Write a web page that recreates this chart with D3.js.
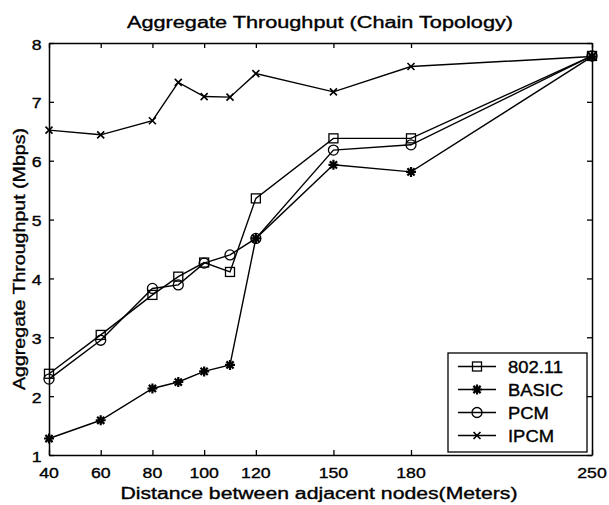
<!DOCTYPE html>
<html>
<head>
<meta charset="utf-8">
<script src="https://cdn.jsdelivr.net/npm/d3@7"></script>
<style>
  body { margin: 0; background: #fff; }
  text { font-family: "Liberation Sans", Arial, sans-serif; fill: #000; stroke: #000; stroke-width: 0.35px; }
</style>
</head>
<body>
<div id="chart"></div>
<script>
// distance between adjacent nodes (m)
const distances = [40, 60, 80, 90, 100, 110, 120, 150, 180, 250];

// aggregate throughput (Mbps)
const dot11 = [2.38, 3.04, 3.72, 4.03, 4.27, 4.11, 5.36, 6.38, 6.38, 7.78];
const basic = [1.28, 1.59, 2.13, 2.24, 2.42, 2.53, 4.68, 5.93, 5.81, 7.77];
const pcm   = [2.29, 2.95, 3.83, 3.89, 4.26, 4.40, 4.68, 6.18, 6.27, 7.78];
const ipcm  = [6.52, 6.44, 6.68, 7.33, 7.09, 7.08, 7.48, 7.17, 7.60, 7.77];

const xTicks = [40, 60, 80, 100, 120, 150, 180, 250];
const yTicks = [1, 2, 3, 4, 5, 6, 7, 8];

const seriesNames = ["802.11", "BASIC", "PCM", "IPCM"];
const seriesMarks = ["square", "star", "circle", "cross"];

const width = 609, height = 505;
const plotL = 49, plotR = 592, plotT = 43, plotB = 455;

const svg = d3.select("#chart").append("svg")
    .attr("width", width)
    .attr("height", height);

const x = d3.scaleLinear().domain([40, 250]).range([plotL, plotR]);
const y = d3.scaleLinear().domain([1, 8]).range([plotB, plotT]);

// stretched text, the figure looks wider than normal Helvetica
function label(g, str, px, py, size, sx, anchor) {
    return g.append("text")
        .attr("transform", "translate(" + px + "," + py + ") scale(" + sx + ",1)")
        .attr("text-anchor", anchor || "middle")
        .attr("font-size", size)
        .text(str);
}

// axes, ticks pointing inward on all four sides
function styleAxis(g) {
    g.selectAll("path.domain").attr("stroke", "#000").attr("stroke-width", 1.5);
    g.selectAll(".tick line").attr("stroke", "#000").attr("stroke-width", 1.3);
    g.attr("font-family", null).attr("font-size", null);
}

const xAxis = svg.append("g")
    .attr("transform", "translate(0," + plotB + ")")
    .call(d3.axisBottom(x).tickValues(xTicks).tickSizeInner(-5).tickSizeOuter(0).tickFormat(""));
styleAxis(xAxis);
xAxis.selectAll(".tick").each(function(d) {
    label(svg, d, x(d), 477.5, 15, 1.18);
});

svg.append("g")
    .attr("transform", "translate(0," + plotT + ")")
    .call(d3.axisTop(x).tickValues(xTicks).tickSizeInner(-5).tickSizeOuter(0).tickFormat(""))
    .call(styleAxis);

const yAxis = svg.append("g")
    .attr("transform", "translate(" + plotL + ",0)")
    .call(d3.axisLeft(y).tickValues(yTicks).tickSizeInner(-5).tickSizeOuter(0).tickFormat(""));
styleAxis(yAxis);
yAxis.selectAll(".tick").each(function(d) {
    label(svg, d, 41.5, y(d) + 6.5, 15, 1.18, "end");
});

svg.append("g")
    .attr("transform", "translate(" + plotR + ",0)")
    .call(d3.axisRight(y).tickValues(yTicks).tickSizeInner(-5).tickSizeOuter(0).tickFormat(""))
    .call(styleAxis);

// titles
svg.append("text")
    .attr("x", 320).attr("y", 27.5)
    .attr("text-anchor", "middle")
    .attr("font-size", 16)
    .attr("textLength", 386)
    .attr("lengthAdjust", "spacingAndGlyphs")
    .text("Aggregate Throughput (Chain Topology)");

svg.append("text")
    .attr("x", 319).attr("y", 499)
    .attr("text-anchor", "middle")
    .attr("font-size", 16)
    .attr("textLength", 397)
    .attr("lengthAdjust", "spacingAndGlyphs")
    .text("Distance between adjacent nodes(Meters)");

svg.append("text")
    .attr("transform", "translate(25,259) rotate(-90)")
    .attr("text-anchor", "middle")
    .attr("font-size", 16)
    .attr("textLength", 262)
    .attr("lengthAdjust", "spacingAndGlyphs")
    .text("Aggregate Throughput (Mbps)");

// markers
function drawMark(g, type, cx, cy) {
    if (type === "square") {
        g.append("rect")
            .attr("x", cx - 4.5).attr("y", cy - 4.5)
            .attr("width", 9).attr("height", 9)
            .attr("fill", "none").attr("stroke", "#000").attr("stroke-width", 1.3);
    } else if (type === "circle") {
        g.append("circle")
            .attr("cx", cx).attr("cy", cy).attr("r", 5)
            .attr("fill", "none").attr("stroke", "#000").attr("stroke-width", 1.3);
    } else if (type === "star") {
        const r = 5;
        g.append("path")
            .attr("d", "M" + (cx - r) + "," + cy + "h" + (2 * r) +
                "M" + cx + "," + (cy - r) + "v" + (2 * r) +
                "M" + (cx - 3.6) + "," + (cy - 3.6) + "l7.2,7.2" +
                "M" + (cx - 3.6) + "," + (cy + 3.6) + "l7.2,-7.2")
            .attr("stroke", "#000").attr("stroke-width", 2.2).attr("fill", "none");
    } else {
        const r = 3.5;
        g.append("path")
            .attr("d", "M" + (cx - r) + "," + (cy - r) + "l" + (2 * r) + "," + (2 * r) +
                "M" + (cx - r) + "," + (cy + r) + "l" + (2 * r) + "," + (-2 * r))
            .attr("stroke", "#000").attr("stroke-width", 1.6).attr("fill", "none");
    }
}

const allSeries = [dot11, basic, pcm, ipcm];
const line = d3.line()
    .x(function(d, i) { return x(distances[i]); })
    .y(function(d) { return y(d); });

const plot = svg.append("g");
allSeries.forEach(function(vals, s) {
    plot.append("path")
        .attr("d", line(vals))
        .attr("fill", "none")
        .attr("stroke", "#000")
        .attr("stroke-width", 1.4);
    vals.forEach(function(v, i) {
        drawMark(plot, seriesMarks[s], x(distances[i]), y(v));
    });
});

// legend
const lg = svg.append("g");
lg.append("rect")
    .attr("x", 448).attr("y", 353)
    .attr("width", 139).attr("height", 99)
    .attr("fill", "#fff").attr("stroke", "#000").attr("stroke-width", 1.3);

seriesNames.forEach(function(name, i) {
    const ry = 366.5 + i * 23;
    lg.append("line")
        .attr("x1", 458).attr("x2", 496)
        .attr("y1", ry).attr("y2", ry)
        .attr("stroke", "#000").attr("stroke-width", 1.4);
    drawMark(lg, seriesMarks[i], 477, ry);
    label(lg, name, 508, ry + 6, 16, 1.15, "start");
});
</script>
</body>
</html>
